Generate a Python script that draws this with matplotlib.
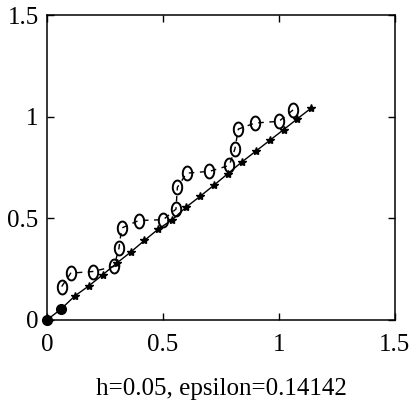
import matplotlib
matplotlib.use("Agg")
from matplotlib import pyplot as plt
import numpy as np

plt.rcParams['font.family'] = ['Liberation Serif', 'DejaVu Serif']

# star series (solid line)
star_x = [0, 0.06, 0.12, 0.18, 0.24, 0.30, 0.36, 0.42, 0.48, 0.54,
          0.60, 0.66, 0.72, 0.78, 0.84, 0.90, 0.96, 1.02, 1.08, 1.14]
star_y = [0, 0.053, 0.118, 0.167, 0.222, 0.279, 0.333, 0.391, 0.447, 0.493,
          0.555, 0.608, 0.663, 0.720, 0.777, 0.830, 0.883, 0.936, 0.990, 1.043]

# circle series (dashed line)
circ_x = [0.063, 0.102, 0.197, 0.289, 0.310, 0.322, 0.395, 0.501, 0.556,
          0.562, 0.602, 0.700, 0.786, 0.810, 0.825, 0.897, 1.000, 1.062]
circ_y = [0.164, 0.230, 0.238, 0.263, 0.353, 0.452, 0.489, 0.493, 0.545,
          0.652, 0.722, 0.731, 0.760, 0.841, 0.939, 0.969, 0.977, 1.034]

# starting points
start_x = [0, 0.06]
start_y = [0, 0.053]

# taller-than-wide open marker, like the scanned one
t = np.linspace(0, 2 * np.pi, 40)
ellipse = list(zip(0.68 * np.cos(t), np.sin(t)))

fig = plt.figure(figsize=(4.13, 4.08), dpi=100)
ax = fig.add_axes([0.114, 0.216, 0.842, 0.747])

ax.plot(star_x, star_y, '-*', color='black', lw=1.0, ms=6)
ax.plot(circ_x, circ_y, '--', color='black', lw=1.0, dashes=(4, 4),
        marker=ellipse, ms=10, mfc='none', mew=1.4)
ax.plot(start_x, start_y, 'o', color='black', ms=7, clip_on=False)

ax.set_xlim(0, 1.5)
ax.set_ylim(0, 1.5)
ax.set_xticks([0, 0.5, 1, 1.5])
ax.set_yticks([0, 0.5, 1, 1.5])
ax.set_xticklabels(['0', '0.5', '1', '1.5'])
ax.set_yticklabels(['0', '0.5', '1', '1.5'])
ax.tick_params(axis='both', direction='in', length=5, width=1, top=True,
               right=True, labelsize=18)
ax.tick_params(axis='x', pad=10)
ax.tick_params(axis='y', pad=6)
for s in ax.spines.values():
    s.set_linewidth(1.1)

ax.set_xlabel('h=0.05, epsilon=0.14142', fontsize=18, labelpad=16)

fig.savefig('out.png', dpi=100)
